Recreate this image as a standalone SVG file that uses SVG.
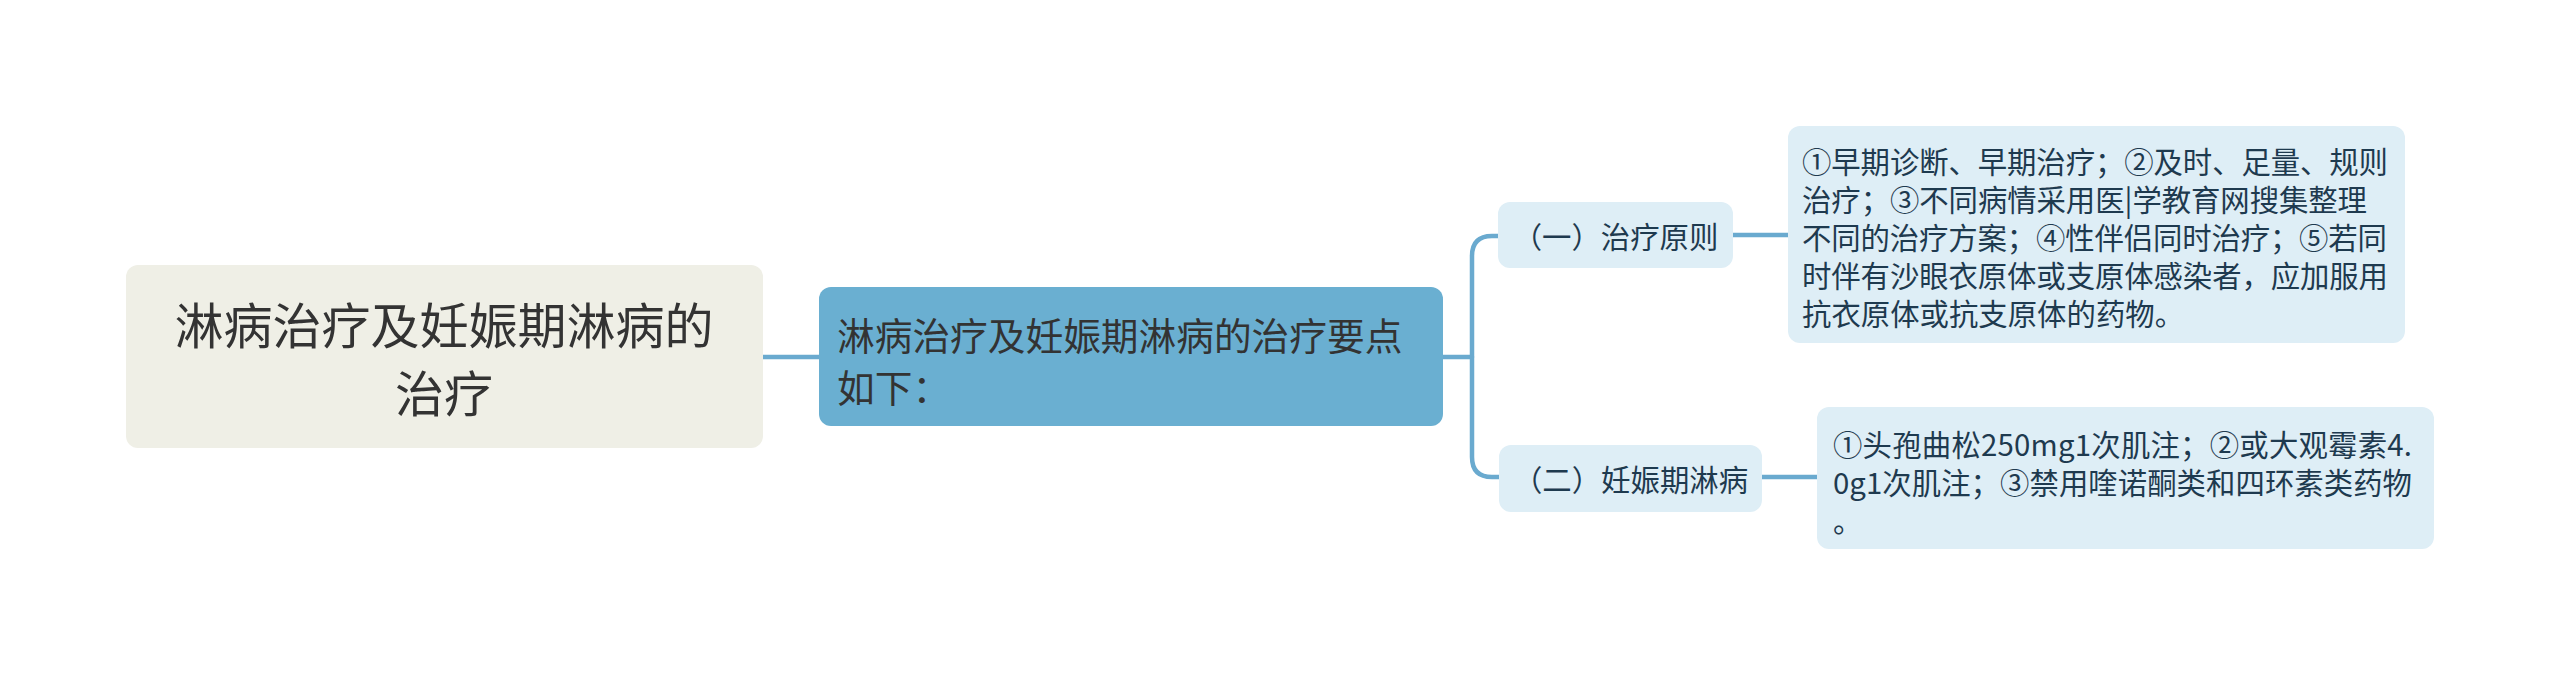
<svg xmlns="http://www.w3.org/2000/svg" width="2560" height="676" viewBox="0 0 2560 676">
<style>
text{font-family:"Noto Sans CJK SC","Noto Sans",sans-serif;dominant-baseline:central}
.root-t{font-size:49px;fill:#333333;text-anchor:middle}
.main-t{font-size:37.7px;fill:#333333}
.sub-t{font-size:29.4px;fill:#1e3a4f;text-anchor:middle}
.leaf-t{font-size:29.4px;fill:#1e3a4f}
.conn{fill:none;stroke:#6aaacf;stroke-width:4.5;stroke-linecap:round}
</style>
<rect width="2560" height="676" fill="#ffffff"/>
<g id="connectors">
<path class="conn" d="M763 357 H819"/>
<path class="conn" d="M1443 357 H1472"/>
<path class="conn" d="M1499 236 H1492 Q1472 236 1472 256 V457 Q1472 477 1492 477 H1499"/>
<path class="conn" d="M1733 235 H1788"/>
<path class="conn" d="M1762 477 H1817"/>
</g>
<g id="root">
<rect x="126" y="265" width="637" height="183" rx="12" fill="#efefe6"/>
<text class="root-t" x="444" y="322">淋病治疗及妊娠期淋病的</text>
<text class="root-t" x="444" y="390">治疗</text>
</g>
<g id="main">
<rect x="819" y="287" width="624" height="139" rx="12" fill="#6aafd1"/>
<text class="main-t" x="837" y="333">淋病治疗及妊娠期淋病的治疗要点</text>
<text class="main-t" x="837" y="385">如下：</text>
</g>
<g id="sub1">
<rect x="1498" y="202" width="235" height="66" rx="12" fill="#deeef6"/>
<text class="sub-t" x="1615.5" y="235">（一）治疗原则</text>
</g>
<g id="sub2">
<rect x="1499" y="445" width="263" height="67" rx="12" fill="#deeef6"/>
<text class="sub-t" x="1630.5" y="478">（二）妊娠期淋病</text>
</g>
<g id="leaf1">
<rect x="1788" y="126" width="617" height="217" rx="12" fill="#deeef6"/>
<text class="leaf-t" x="1802" y="160" textLength="586" lengthAdjust="spacing">①早期诊断、早期治疗；②及时、足量、规则</text>
<text class="leaf-t" x="1802" y="198" textLength="565" lengthAdjust="spacing">治疗；③不同病情采用医|学教育网搜集整理</text>
<text class="leaf-t" x="1802" y="236" textLength="585" lengthAdjust="spacing">不同的治疗方案；④性伴侣同时治疗；⑤若同</text>
<text class="leaf-t" x="1802" y="274" textLength="586" lengthAdjust="spacing">时伴有沙眼衣原体或支原体感染者，应加服用</text>
<text class="leaf-t" x="1802" y="312">抗衣原体或抗支原体的药物。</text>
</g>
<g id="leaf2">
<rect x="1817" y="407" width="617" height="142" rx="12" fill="#deeef6"/>
<text class="leaf-t" x="1833" y="443" textLength="579" lengthAdjust="spacing">①头孢曲松250mg1次肌注；②或大观霉素4.</text>
<text class="leaf-t" x="1833" y="481" textLength="579" lengthAdjust="spacing">0g1次肌注；③禁用喹诺酮类和四环素类药物</text>
<text class="leaf-t" x="1833" y="519">。</text>
</g>
</svg>
